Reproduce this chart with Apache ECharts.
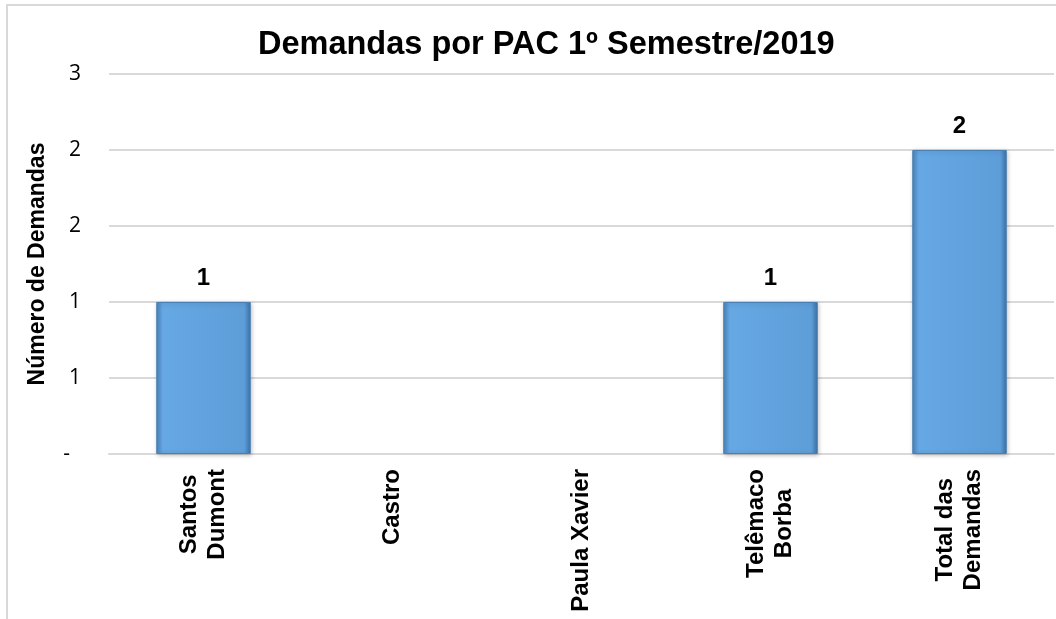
<!DOCTYPE html>
<html>
<head>
<meta charset="utf-8">
<script src="https://cdn.jsdelivr.net/npm/echarts@6/dist/echarts.min.js"></script>
<style>
  html, body { margin: 0; padding: 0; background: #fff; }
  #chart { width: 1056px; height: 619px; }
</style>
</head>
<body>
<div id="chart"></div>
<script>
// data
const categories = ["Santos\nDumont", "Castro", "Paula Xavier", "Telêmaco\nBorba", "Total das\nDemandas"];
const demandas = [1, 0, 0, 1, 2];
const yTicks = [0, 0.5, 1, 1.5, 2, 2.5];

const chart = echarts.init(document.getElementById("chart"));

const font = "'Liberation Sans', Arial, sans-serif";
const xFontSize = 24;
const xLabelMargin = 15;

// rotated axis labels keep their lines right-aligned, so the category
// names are drawn by a custom series on the same axis, lines centred
const ctx = document.createElement("canvas").getContext("2d");
ctx.font = "bold " + xFontSize + "px " + font;
const labelLen = categories.map((c) => Math.max(...c.split("\n").map((l) => ctx.measureText(l).width)));

const barColor = new echarts.graphic.LinearGradient(0, 0, 1, 0, [
  { offset: 0, color: "#4a86bf" },
  { offset: 0.07, color: "#66a8e3" },
  { offset: 0.93, color: "#5d9ed9" },
  { offset: 1, color: "#3d72a6" },
]);

const barData = demandas.map((v) =>
  v === 0
    ? { value: v, itemStyle: { borderWidth: 0, shadowBlur: 0, shadowOffsetX: 0, shadowOffsetY: 0, shadowColor: "transparent" } }
    : v
);

const option = {
  backgroundColor: "#fff",
  animation: false,
  title: {
    text: "Demandas por PAC 1º Semestre/2019",
    left: 253,
    top: 24,
    textStyle: { fontFamily: font, fontSize: 32.5, fontWeight: "bold", color: "#000" },
  },
  graphic: [
    {
      type: "rect",
      shape: { x: 7, y: 5, width: 1200, height: 800 },
      style: { fill: "none", stroke: "#d9d9d9", lineWidth: 2 },
      silent: true,
    },
  ],
  grid: { left: 109, right: 2, top: 74, bottom: 165, outerBoundsMode: "none", containLabel: false },
  xAxis: {
    type: "category",
    data: categories,
    axisLine: { lineStyle: { color: "#d9d9d9", width: 2 } },
    axisTick: { show: false },
    axisLabel: { show: false },
  },
  yAxis: {
    type: "value",
    min: yTicks[0],
    max: yTicks[yTicks.length - 1],
    interval: 0.5,
    name: "Número de Demandas",
    nameLocation: "middle",
    nameRotate: 90,
    nameGap: 60,
    nameTextStyle: { fontFamily: font, fontSize: 23, fontWeight: "bold", color: "#000" },
    axisLine: { show: false },
    axisTick: { show: false },
    splitLine: { lineStyle: { color: "#d9d9d9", width: 2 } },
    axisLabel: {
      margin: 28,
      fontFamily: "'Open Sans', sans-serif",
      fontSize: 21,
      color: "#000",
      formatter: (v) => (v === 0 ? "-  " : String(Math.round(v))),
    },
  },
  series: [
    {
      type: "bar",
      data: barData,
      barWidth: "50%",
      itemStyle: {
        color: barColor,
        borderColor: "#4a7fb3",
        borderWidth: 1,
        shadowColor: "rgba(0,0,0,0.25)",
        shadowBlur: 4,
        shadowOffsetX: 1,
        shadowOffsetY: 1,
      },
      label: {
        show: true,
        position: "top",
        distance: 12,
        fontFamily: font,
        fontSize: 24,
        fontWeight: "bold",
        color: "#000",
        formatter: (p) => (p.value === 0 ? "" : String(Math.round(p.value))),
      },
    },
    {
      type: "custom",
      silent: true,
      clip: false,
      data: categories.map((c, i) => [i, 0]),
      renderItem: (params, api) => {
        const i = params.dataIndex;
        const p = api.coord([i, 0]);
        return {
          type: "text",
          x: p[0],
          y: p[1] + xLabelMargin + labelLen[i] / 2,
          rotation: Math.PI / 2,
          style: {
            text: categories[i],
            align: "center",
            verticalAlign: "middle",
            fontFamily: font,
            fontSize: xFontSize,
            fontWeight: "bold",
            lineHeight: 28,
            fill: "#000",
          },
        };
      },
    },
  ],
};

chart.setOption(option);
</script>
</body>
</html>
